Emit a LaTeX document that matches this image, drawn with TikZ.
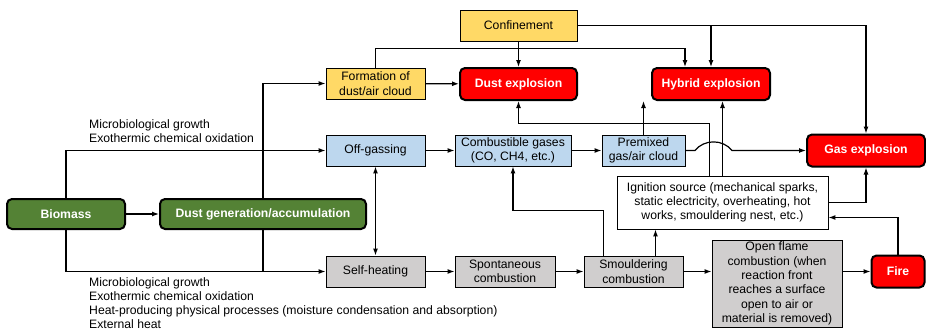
\documentclass[tikz,border=0pt]{standalone}
\usepackage{fontspec}
\setmainfont{Liberation Sans}
\usetikzlibrary{arrows.meta}

\definecolor{hazgreen}{HTML}{548235}
\definecolor{hazyellow}{HTML}{FFD966}
\definecolor{hazblue}{HTML}{BDD7EE}
\definecolor{hazgrey}{HTML}{D0CECE}
\definecolor{hazred}{HTML}{FF0000}

\tikzset{
    every picture/.style={x=1pt, y=-1pt},
    box/.style={draw, line width=0.9pt, inner sep=0pt, align=center,
        font=\fontsize{12.2}{14.3}\selectfont},
    ybox/.style={box, fill=hazyellow},
    bbox/.style={box, fill=hazblue},
    gbox/.style={box, fill=hazgrey},
    wbox/.style={box, fill=white},
    hazard/.style={box, line width=2pt, rounded corners=5pt, fill=hazred,
        text=white, font=\fontsize{12.2}{14.3}\selectfont\bfseries},
    source/.style={hazard, fill=hazgreen},
    arr/.style={line width=1.2pt, -{Latex[length=7pt, width=5pt]}},
    arrboth/.style={line width=1.2pt, {Latex[length=7pt, width=5pt]}-{Latex[length=7pt, width=5pt]}},
    plain/.style={line width=1.2pt},
    lbl/.style={align=left, inner sep=0pt, font=\fontsize{12.2}{14.3}\selectfont}
}

\begin{document}
\begin{tikzpicture}
    \useasboundingbox (0,0) rectangle (926,332);

    % Hazard outcomes
    \node[hazard, minimum width=117, minimum height=32] (dust) at (518.5,84) {Dust explosion};
    \node[hazard, minimum width=118, minimum height=32] (hyb) at (711,84) {Hybrid explosion};
    \node[hazard, minimum width=118, minimum height=32] (gas) at (866,150.5) {Gas explosion};
    \node[hazard, minimum width=53, minimum height=32] (fire) at (898,271.5) {Fire};

    % Sources
    \node[source, minimum width=118, minimum height=30] (bio) at (66,214) {Biomass};
    \node[source, minimum width=206, minimum height=30] (dgen) at (263,214) {Dust generation/accumulation};

    % Conditions
    \node[ybox, minimum width=117, minimum height=31] (conf) at (518.5,25.5) {Confinement};
    \node[ybox, minimum width=99, minimum height=31] (form) at (375.5,83.5) {Formation of\\dust/air cloud};

    % Gas path
    \node[bbox, minimum width=99, minimum height=31] (offg) at (375.5,150.5) {Off-gassing};
    \node[bbox, minimum width=116, minimum height=31] (comb) at (513,150.5) {Combustible gases\\(CO, CH4, etc.)};
    \node[bbox, minimum width=83, minimum height=31] (prem) at (643.5,150.5) {Premixed\\gas/air cloud};
    \node[wbox, minimum width=211, minimum height=53] (ign) at (722.5,202.5)
        {Ignition source (mechanical sparks,\\static electricity, overheating, hot\\works, smouldering nest, etc.)};

    % Heating path
    \node[gbox, minimum width=99, minimum height=31] (selfh) at (375.5,271.5) {Self-heating};
    \node[gbox, minimum width=100, minimum height=31] (spon) at (505,271.5) {Spontaneous\\combustion};
    \node[gbox, minimum width=99, minimum height=31] (smou) at (633.5,271.5) {Smouldering\\combustion};
    \node[gbox, minimum width=130, minimum height=87] (open) at (777,283.5)
        {Open flame\\combustion (when\\reaction front\\reaches a surface\\open to air or\\material is removed)};

    % Process labels
    \node[lbl, anchor=west] (procup) at (89,131) {Microbiological growth\\Exothermic chemical oxidation};
    \node[lbl, anchor=north west] (proclow) at (89,277) {Microbiological growth\\Exothermic chemical oxidation\\Heat-producing physical processes (moisture condensation and absorption)\\External heat};

    % Hop coordinates
    \coordinate (hopa) at (695,150.5);
    \coordinate (hopb) at (732,150.5);

    % From biomass
    \draw[arr] (bio) -- (dgen);
    \draw[arr] (bio.north) |- (offg.west);
    \draw[arr] (bio.south) |- (selfh.west);
    \draw[arr] (dgen.north) |- (form.west);
    \draw[plain] (dgen.south) -- (dgen.south |- selfh.west);

    % Dust path
    \draw[arr] (form) -- (dust);
    \draw[arr] (conf) -- (dust);
    \draw[arr] (form.north) -- ++(0,-19) -| ([xshift=-26]hyb.north);
    \draw[arr] (conf.east) -| (gas.north);
    \draw[arr] (hyb.north |- conf.east) -- (hyb.north);

    % Gas path
    \draw[arrboth] (offg) -- (selfh);
    \draw[arr] (offg) -- (comb);
    \draw[arr] (comb) -- (prem);
    \draw[arr] (prem.north) -- (prem.north |- hyb.south);
    \draw[arr] (prem.east) -- (hopa) .. controls (704,139) and (723,139) .. (hopb) -- (gas.west);

    % Heating path
    \draw[arr] (selfh) -- (spon);
    \draw[arr] (spon) -- (smou);
    \draw[arr] (smou.east) -- (smou.east -| open.west);
    \draw[arr] (open.east |- fire.west) -- (fire.west);
    \draw[arr] ([xshift=-30]smou.north) -- ++(0,-45) -| (comb.south);
    \draw[arr] ([xshift=22]smou.north) -- ([xshift=22]smou.north |- ign.south);

    % Ignition
    \draw[arr] (ign.north) -- (ign.north |- hyb.south);
    \draw[arr] ([xshift=-13]ign.north) -- ++(0,-52) -| (dust.south);
    \draw[arr] (ign.east) -| (gas.south);
    \draw[arr] (fire.north) -- ++(0,-37) coordinate (fireup) -- (fireup -| ign.east);
\end{tikzpicture}
\end{document}
